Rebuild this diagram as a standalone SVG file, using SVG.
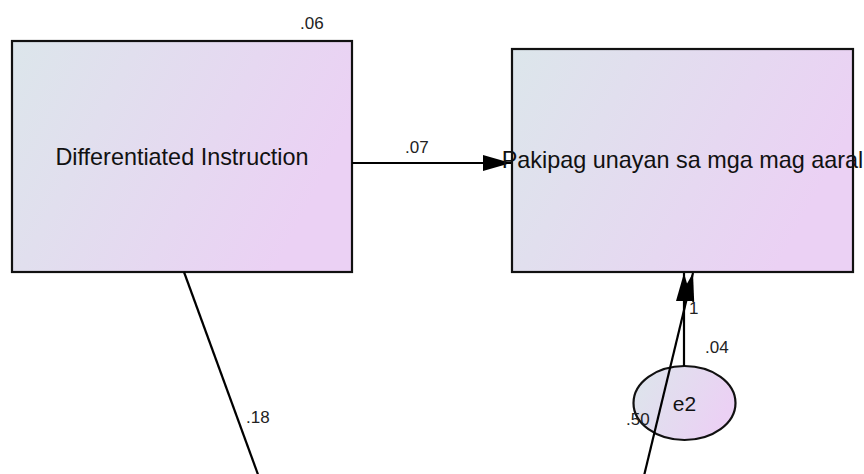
<svg xmlns="http://www.w3.org/2000/svg" width="864" height="474" viewBox="0 0 864 474">
<defs>
<linearGradient id="g" x1="0" y1="0" x2="1" y2="0.35">
<stop offset="0" stop-color="#dce6eb"/>
<stop offset="1" stop-color="#ebd1f4"/>
</linearGradient>
<marker id="ah" markerUnits="userSpaceOnUse" markerWidth="30" markerHeight="18" refX="28" refY="8" orient="auto" viewBox="0 0 30 18">
<path d="M0,0 L28,8 L0,16 z" fill="#000"/>
</marker>
<style>
.box{fill:url(#g);stroke:#111;stroke-width:2.2}
.lbl{font-family:"Liberation Sans",Arial,sans-serif;fill:#111}
.big{font-size:23.4px;text-anchor:middle}
.num{font-size:17px;fill:#222}
.ln{stroke:#000;stroke-width:2.2;fill:none}
</style>
</defs>
<rect width="864" height="474" fill="#fff"/>
<g id="n-di">
<rect class="box" x="12" y="41" width="340" height="231"/>
<text class="lbl big" x="182" y="165">Differentiated Instruction</text>
<text class="lbl num" x="300" y="29">.06</text>
</g>
<g id="n-pak">
<rect class="box" x="512" y="49" width="341" height="223"/>
</g>
<g id="n-e2">
<ellipse class="box" cx="684.5" cy="403" rx="51" ry="37"/>
<text class="lbl" x="684.5" y="411" font-size="21" text-anchor="middle">e2</text>
<text class="lbl num" x="705" y="353">.04</text>
</g>
<g id="connectors">
<line class="ln" x1="352" y1="163" x2="511" y2="163" marker-end="url(#ah)"/>
<line class="ln" x1="684" y1="366" x2="684" y2="273" marker-end="url(#ah)"/>
<line class="ln" x1="643" y1="480" x2="693" y2="273" marker-end="url(#ah)"/>
<line class="ln" x1="184" y1="272" x2="260" y2="480"/>
<text class="lbl num" x="405" y="153">.07</text>
<text class="lbl num" x="246" y="423">.18</text>
<text class="lbl num" x="626" y="425">.50</text>
<text class="lbl num" x="689" y="314">1</text>
</g>
<g id="n-pak-label">
<text class="lbl big" x="682.5" y="168">Pakipag unayan sa mga mag aaral</text>
</g>
</svg>
